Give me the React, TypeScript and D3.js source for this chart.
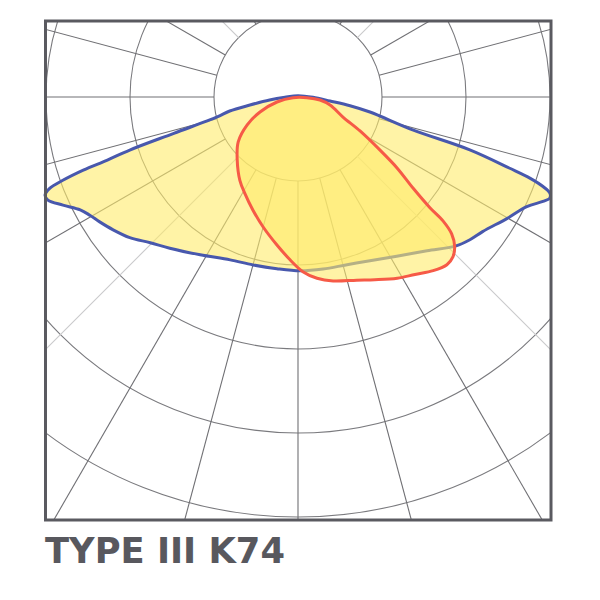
import React from 'react';
import * as d3 from 'd3';

// Photometric rings (cd/klm) and spoke angles (degrees from nadir, + to the right)
const RING_VALUES = [100, 200, 300, 400, 500];
const SPOKE_ANGLES = [-165, -150, -135, -120, -105, -90, -75, -60, -45, -30, -15, 0, 15, 30, 45, 60, 75, 90, 105, 120, 135, 150, 165, 180];
const LIGHT_SPOKES = [-135, -45, 45, 135];

// Blue curve (plane 0-180): angle from nadir, intensity
const blueAngles = [180, 88.9, 82.9, 80.5, 78.2, 74.0, 72.9, 71.4, 70.7, 69.9, 69.1, 68.1, 66.9, 64.4, 59.9, 53.9, 50.3, 46.5, 40.0, 31.8, 23.7, 16.3, 8.3, 0.7, -7.0, -15.0, -22.6, -31.8, -40.3, -45.4, -50.1, -54.3, -57.8, -60.4, -62.6, -65.3, -67.6, -68.8, -69.8, -70.5, -71.2, -71.7, -72.5, -73.7, -76.1, -78.4, -80.5, -83.9, -88.7];
const blueValues = [1.5, 17.9, 38.4, 62.8, 87.5, 142, 214, 266, 293, 311, 321, 323, 317, 302, 288, 272, 266, 258, 239, 223, 213, 208, 207, 207, 206, 207, 210, 221, 236, 247, 261, 271, 279, 285, 292, 308, 322, 323, 315, 297, 270, 239, 210, 154, 99, 83, 58, 34, 15.5];

// Red curve (plane 90-270)
const redAngles = [85.6, 82.2, 76.0, 66.0, 61.3, 57.1, 54.4, 51.6, 50.0, 49.5, 48.3, 46.3, 44.1, 41.6, 37.9, 33.4, 28.7, 22.8, 17.8, 10.8, 6.0, 1.6, -2.8, -8.1, -15.1, -21.7, -28.9, -34.9, -44.1, -53.1, -61.2, -68.5, -76.6, -82];
const redValues = [10.7, 26.4, 39.3, 58.6, 84.2, 116, 145, 175, 205, 227, 245, 258, 265, 267, 262, 253, 246, 236, 229, 223, 217, 208, 194, 178, 160, 145, 131, 121, 104, 89, 69, 48.6, 25.7, 6.0];

const TITLE = 'TYPE III K74';

const W = 600;
const H = 600;
const CX = 298;
const CY = 97;
const FRAME = { x0: 45.5, y0: 21, x1: 551, y1: 520 };

const rScale = d3.scaleLinear().domain([0, 500]).range([0, 420]);
const toRad = (deg: number) => ((180 - deg) * Math.PI) / 180;

type Pt = { a: number; v: number };
const zip = (as: number[], vs: number[]): Pt[] => as.map((a, i) => ({ a, v: vs[i] }));

const radial = d3
  .lineRadial<Pt>()
  .angle((d) => toRad(d.a))
  .radius((d) => rScale(d.v))
  .curve(d3.curveCatmullRomClosed.alpha(0.5));

export default function App() {
  const bluePath = radial(zip(blueAngles, blueValues)) || '';
  const redPath = radial(zip(redAngles, redValues)) || '';
  const inner = rScale(RING_VALUES[0]);
  const outer = rScale(800);

  return (
    <svg width={W} height={H} style={{ position: 'absolute', left: 0, top: 0, background: '#fff' }}>
      <defs>
        <clipPath id="frameClip">
          <rect x={FRAME.x0} y={FRAME.y0} width={FRAME.x1 - FRAME.x0} height={FRAME.y1 - FRAME.y0} />
        </clipPath>
      </defs>
      <g clipPath="url(#frameClip)">
        <g transform={`translate(${CX},${CY})`}>
          {RING_VALUES.map((v) => (
            <circle key={v} r={rScale(v)} fill="none" stroke="#7a7a7e" strokeWidth={1.1} />
          ))}
          {SPOKE_ANGLES.map((a) => {
            const p0 = d3.pointRadial(toRad(a), inner);
            const p1 = d3.pointRadial(toRad(a), outer);
            const light = LIGHT_SPOKES.includes(a);
            return (
              <line
                key={a}
                x1={p0[0]}
                y1={p0[1]}
                x2={p1[0]}
                y2={p1[1]}
                stroke={light ? '#c9c9cb' : '#707074'}
                strokeWidth={1.1}
              />
            );
          })}
        </g>
      </g>
      <g transform={`translate(${CX},${CY})`}>
        <path d={bluePath} fill="#ffeb6b" fillOpacity={0.6} stroke="none" />
        <path d={bluePath} fill="none" stroke="#4858ad" strokeWidth={3} strokeLinejoin="round" />
        <path d={redPath} fill="#ffeb6b" fillOpacity={0.6} stroke="none" />
        <path d={redPath} fill="none" stroke="#f65a47" strokeWidth={3} strokeLinejoin="round" />
      </g>
      <rect
        x={FRAME.x0}
        y={FRAME.y0}
        width={FRAME.x1 - FRAME.x0}
        height={FRAME.y1 - FRAME.y0}
        fill="none"
        stroke="#5a5a60"
        strokeWidth={3}
      />
      <text
        x={45}
        y={563}
        fontFamily="'DejaVu Sans Condensed', 'DejaVu Sans', sans-serif"
        fontWeight="bold"
        fontSize={36}
        fill="#58585e"
        textLength={240}
        lengthAdjust="spacingAndGlyphs"
      >
        {TITLE}
      </text>
    </svg>
  );
}
